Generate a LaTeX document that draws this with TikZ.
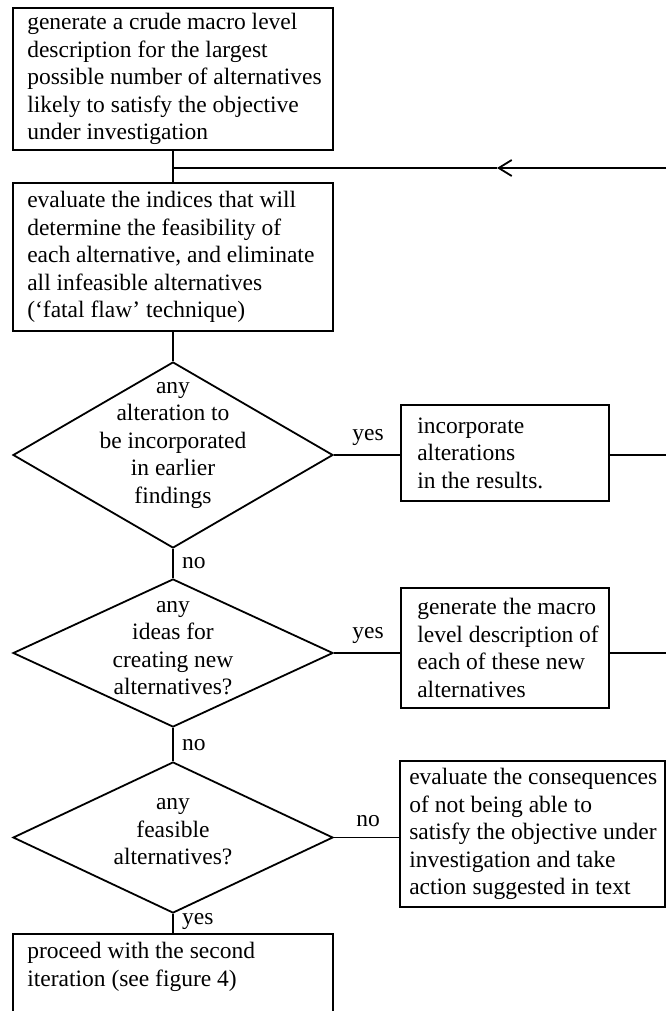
\documentclass[tikz,border=0pt]{standalone}
\usepackage{fontspec}
\setmainfont{Liberation Serif}
\usetikzlibrary{shapes.geometric,arrows.meta}
\begin{document}
\begin{tikzpicture}[x=1pt,y=-1pt,
  every node/.style={font=\fontsize{23.5}{27.5}\selectfont},
  ln/.style={line width=1.8pt},
  box/.style={draw,line width=1.8pt,rectangle,inner sep=0pt},
  btext/.style={anchor=west,inner sep=0pt,align=left},
  dia/.style={draw,line width=1.8pt,diamond,inner sep=0pt},
  dtext/.style={align=center,inner sep=0pt},
  lab/.style={inner sep=0pt}]
\useasboundingbox (0,0) rectangle (666,1011);
% box 1
\node[box,minimum width=320pt,minimum height=142pt] (b1) at (173,79) {};
\node[btext] (b1t) at ([xshift=15pt]b1.west)
 {generate a crude macro level\\description for the largest\\possible number of alternatives\\likely to satisfy the objective\\under investigation};
% box 2
\node[box,minimum width=320pt,minimum height=148pt] (b2) at (173,257) {};
\node[btext] (b2t) at ([xshift=15pt]b2.west)
 {evaluate the indices that will\\determine the feasibility of\\each alternative, and eliminate\\all infeasible alternatives\\(`fatal flaw' technique)};
% diamond 1
\node[dia,minimum width=320pt,minimum height=186pt] (d1) at (173,455) {};
\node[dtext] (d1t) at (173,445) {any\\alteration to\\be incorporated\\in earlier\\findings};
\node[box,minimum width=208pt,minimum height=96pt] (b3) at (505,453) {};
\node[btext] (b3t) at ([xshift=17pt]b3.west) {incorporate\\alterations\\in the results.};
% diamond 2
\node[dia,minimum width=320pt,minimum height=148pt] (d2) at (173,653) {};
\node[dtext] (d2t) at (173,648) {any\\ideas for\\creating new\\alternatives?};
\node[box,minimum width=208pt,minimum height=120pt] (b4) at (505,648) {};
\node[btext] (b4t) at ([xshift=17pt]b4.west) {generate the macro\\level description of\\each of these new\\alternatives};
% diamond 3
\node[dia,minimum width=320pt,minimum height=151pt] (d3) at (173,837.5) {};
\node[dtext] (d3t) at (173,832) {any\\feasible\\alternatives?};
\node[box,minimum width=265pt,minimum height=146pt] (b5) at (532.5,834) {};
\node[btext] (b5t) at ([xshift=10pt]b5.west)
 {evaluate the consequences\\of not being able to\\satisfy the objective under\\investigation and take\\action suggested in text};
% box 6
\node[box,minimum width=320pt,minimum height=100pt,anchor=north] (b6) at (173,933) {};
\node[anchor=north west,inner sep=0pt,align=left] (b6t) at ([xshift=15pt,yshift=-9pt]b6.north west)
 {proceed with the second\\iteration (see figure 4)};
% feedback coordinates
\coordinate (fbR) at (666,168);
\coordinate (fbA) at (497,168);
\coordinate (fbJ) at (173,168);
\coordinate (r3) at (666,455);
\coordinate (r4) at (666,653);
% connectors
\draw[ln] (b1.south) -- (b2.north);
\draw[ln,-{Straight Barb[length=13pt,width=16pt,line width=1.8pt]}] (fbR) -- (fbA);
\draw[ln] (fbA) -- (fbJ);
\draw[ln] (b2.south) -- (d1.north);
\draw[ln] (d1.east) -- (d1.east -| b3.west);
\draw[ln] (b3.east |- r3) -- (r3);
\draw[ln] (d1.south) -- (d2.north);
\draw[ln] (d2.east) -- (d2.east -| b4.west);
\draw[ln] (b4.east |- r4) -- (r4);
\draw[ln] (d2.south) -- (d3.north);
\draw[ln] (d3.east) -- (d3.east -| b5.west);
\draw[ln] (d3.south) -- (b6.north);
% labels
\node[lab] (l1) at (368,437) {yes};
\node[lab,anchor=west] (l2) at (182,563) {no};
\node[lab] (l3) at (368,635) {yes};
\node[lab,anchor=west] (l4) at (182,745) {no};
\node[lab] (l5) at (368,821) {no};
\node[lab,anchor=west] (l6) at (182,921) {yes};
\end{tikzpicture}
\end{document}
